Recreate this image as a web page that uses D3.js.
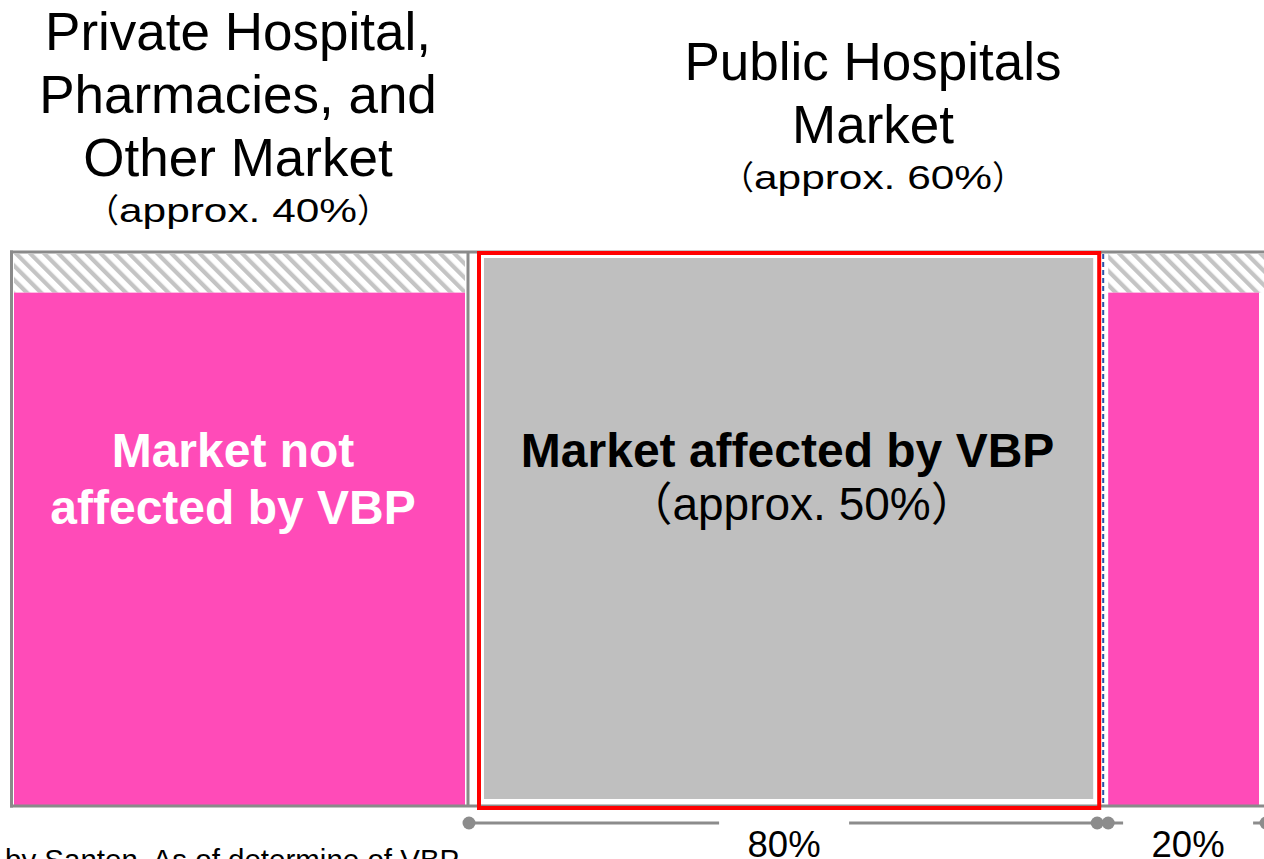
<!DOCTYPE html>
<html>
<head>
<meta charset="utf-8">
<script src="https://cdn.jsdelivr.net/npm/d3@7"></script>
<style>
  html, body { margin: 0; padding: 0; background: #fff; overflow: hidden; }
  svg { display: block; font-family: "Liberation Sans", Arial, sans-serif; }
</style>
</head>
<body>
<div id="chart"></div>
<script>
// Marktaufteilung (Anteile in %)
const columnNames = ["Private", "Public"];
const columnShares = [40, 60];
const columnTitles = [
    ["Private Hospital,", "Pharmacies, and", "Other Market"],
    ["Public Hospitals", "Market"]
];
const columnSubtitles = ["approx. 40%", "approx. 60%"];

// Aufteilung des öffentlichen Marktes
const publicSegments = ["affected", "notAffected"];
const publicSplit = [80, 20];
const splitLabels = ["80%", "20%"];

// vertikale Aufteilung: Rosa = nicht betroffen, schraffiert = Rest
const heightShares = [93, 7];

const innerLabelNotAffected = ["Market not", "affected by VBP"];
const innerLabelAffected = "Market affected by VBP";
const innerSubAffected = "approx. 50%";
const footnote = "by Santen. As of determine of VBP";

const width = 1264, height = 859;
const pink = "#ff4bb8", frameGray = "#8a8a8a", fillGray = "#bfbfbf";
const cjk = "'Noto Sans CJK JP', 'Noto Sans CJK SC', sans-serif";

const svg = d3.select("#chart")
    .append("svg")
    .attr("width", width)
    .attr("height", height);

// Text mit vollbreiten Klammern
function parenText(sel, str, stretch) {
    sel.append("tspan").style("font-family", cjk).text("（");
    const mid = sel.append("tspan").text(str);
    if (stretch) mid.attr("textLength", stretch).attr("lengthAdjust", "spacingAndGlyphs");
    sel.append("tspan").style("font-family", cjk).text("）");
    return sel;
}

// Schraffur
const defs = svg.append("defs");
const hatch = defs.append("pattern")
    .attr("id", "hatch")
    .attr("patternUnits", "userSpaceOnUse")
    .attr("width", 10)
    .attr("height", 10)
    .attr("patternTransform", "rotate(-45)");
hatch.append("rect").attr("width", 10).attr("height", 10).attr("fill", "#fff");
hatch.append("line")
    .attr("x1", 2).attr("y1", 0).attr("x2", 2).attr("y2", 10)
    .attr("stroke", "#c4c4c4").attr("stroke-width", 4.5);

// Skalen
const cum = d3.cumsum(columnShares);          // [40, 100]
const x = d3.scaleLinear()
    .domain([0, cum[0], cum[1]])
    .range([10, 468, 1262]);
const y = d3.scaleLinear()
    .domain([0, 100])
    .range([806, 254]);

const colStart = [0, cum[0]];
const colEnd = [cum[0], cum[1]];

// Grenzen innerhalb des öffentlichen Marktes
const pubStart = cum[0];
const pubAffectedEnd = pubStart + columnShares[1] * publicSplit[0] / 100;   // 88
const pubEnd = cum[1];

const yPink = y(heightShares[0]);

// Private Spalte
svg.append("rect")
    .attr("x", x(0) + 4).attr("y", y(100))
    .attr("width", x(cum[0]) - x(0) - 7).attr("height", yPink - y(100))
    .attr("fill", "url(#hatch)");
svg.append("rect")
    .attr("x", x(0) + 4).attr("y", yPink)
    .attr("width", x(cum[0]) - x(0) - 7).attr("height", y(0) - yPink - 1)
    .attr("fill", pink);

// Öffentlich, nicht betroffen (rechts)
svg.append("rect")
    .attr("x", x(pubAffectedEnd) + 5).attr("y", y(100))
    .attr("width", width - x(pubAffectedEnd)).attr("height", yPink - y(100))
    .attr("fill", "url(#hatch)");
svg.append("rect")
    .attr("x", x(pubAffectedEnd) + 5).attr("y", yPink)
    .attr("width", x(pubEnd) - x(pubAffectedEnd) - 8).attr("height", y(0) - yPink - 1)
    .attr("fill", pink);

// Rahmen
svg.append("line")
    .attr("x1", x(0)).attr("x2", width)
    .attr("y1", y(100) - 2).attr("y2", y(100) - 2)
    .attr("stroke", frameGray).attr("stroke-width", 3);
svg.append("line")
    .attr("x1", x(0)).attr("x2", width)
    .attr("y1", y(0)).attr("y2", y(0))
    .attr("stroke", frameGray).attr("stroke-width", 3);
svg.append("line")
    .attr("x1", x(0) + 1.5).attr("x2", x(0) + 1.5)
    .attr("y1", y(100) - 3.5).attr("y2", y(0) + 1.5)
    .attr("stroke", frameGray).attr("stroke-width", 3);
svg.append("line")
    .attr("x1", x(cum[0])).attr("x2", x(cum[0]))
    .attr("y1", y(100) - 2).attr("y2", y(0))
    .attr("stroke", frameGray).attr("stroke-width", 3);

// Betroffener Markt (grau, roter Rahmen)
svg.append("rect")
    .attr("x", x(pubStart) + 16).attr("y", y(100) + 4)
    .attr("width", x(pubAffectedEnd) - x(pubStart) - 26)
    .attr("height", y(0) - y(100) - 11)
    .attr("fill", fillGray);
svg.append("rect")
    .attr("x", x(pubStart) + 11).attr("y", y(100) - 1)
    .attr("width", x(pubAffectedEnd) - x(pubStart) - 15)
    .attr("height", y(0) - y(100) + 3)
    .attr("fill", "none")
    .attr("stroke", "#ff0000")
    .attr("stroke-width", 4);

// gestrichelte Linie
svg.append("line")
    .attr("x1", x(pubAffectedEnd)).attr("x2", x(pubAffectedEnd))
    .attr("y1", y(100)).attr("y2", y(0) - 2)
    .attr("stroke", "#2a52a8").attr("stroke-width", 2)
    .attr("stroke-dasharray", "5,3");

// Titel
columnNames.forEach((name, i) => {
    const cx = (x(colStart[i]) + x(colEnd[i])) / 2 + (i === 0 ? -1 : 8);
    const lines = columnTitles[i];
    const firstBaseline = i === 0 ? 50 : 80;
    const t = svg.append("text")
        .attr("text-anchor", "middle")
        .attr("font-size", 53)
        .attr("fill", "#000");
    lines.forEach((ln, j) => {
        t.append("tspan")
            .attr("x", cx)
            .attr("y", firstBaseline + j * 63)
            .text(ln);
    });
    const sub = svg.append("text")
        .attr("x", cx)
        .attr("y", firstBaseline + (lines.length - 1) * 63 + 46)
        .attr("text-anchor", "middle")
        .attr("font-size", 33)
        .attr("fill", "#000");
    parenText(sub, columnSubtitles[i], 238);
});

// Innere Beschriftungen
const leftCx = (x(0) + x(cum[0])) / 2 - 6;
innerLabelNotAffected.forEach((ln, j) => {
    svg.append("text")
        .attr("x", leftCx)
        .attr("y", 467 + j * 57)
        .attr("text-anchor", "middle")
        .attr("font-size", 48)
        .attr("font-weight", "bold")
        .attr("fill", "#fff")
        .text(ln);
});
const midCx = (x(pubStart) + x(pubAffectedEnd)) / 2 + 2;
svg.append("text")
    .attr("x", midCx)
    .attr("y", 467)
    .attr("text-anchor", "middle")
    .attr("font-size", 48)
    .attr("font-weight", "bold")
    .attr("fill", "#000")
    .text(innerLabelAffected);
parenText(svg.append("text")
    .attr("x", midCx + 14)
    .attr("y", 520)
    .attr("text-anchor", "middle")
    .attr("font-size", 46)
    .attr("fill", "#000"), innerSubAffected);

// Klammern unten mit Prozentangaben
const brackets = [
    { from: x(pubStart) + 1, to: x(pubAffectedEnd) - 6, label: splitLabels[0] },
    { from: x(pubAffectedEnd) + 5, to: x(pubEnd) + 4, label: splitLabels[1] }
];
const bracketY = 823, gapHalf = 65;
brackets.forEach(b => {
    const c = (b.from + b.to) / 2 + 1;
    const g = svg.append("g");
    g.append("line")
        .attr("x1", b.from).attr("x2", c - gapHalf)
        .attr("y1", bracketY).attr("y2", bracketY)
        .attr("stroke", "#8c8c8c").attr("stroke-width", 3);
    g.append("line")
        .attr("x1", c + gapHalf).attr("x2", b.to)
        .attr("y1", bracketY).attr("y2", bracketY)
        .attr("stroke", "#8c8c8c").attr("stroke-width", 3);
    g.selectAll("circle")
        .data([b.from, b.to])
        .enter()
        .append("circle")
        .attr("cx", d => d)
        .attr("cy", bracketY)
        .attr("r", 6.5)
        .attr("fill", "#8c8c8c");
    g.append("text")
        .attr("x", c)
        .attr("y", 857)
        .attr("text-anchor", "middle")
        .attr("font-size", 36.5)
        .attr("fill", "#000")
        .text(b.label);
});

// Fußnote
svg.append("text")
    .attr("x", 5)
    .attr("y", 870)
    .attr("font-size", 29.5)
    .attr("fill", "#000")
    .text(footnote);
</script>
</body>
</html>
